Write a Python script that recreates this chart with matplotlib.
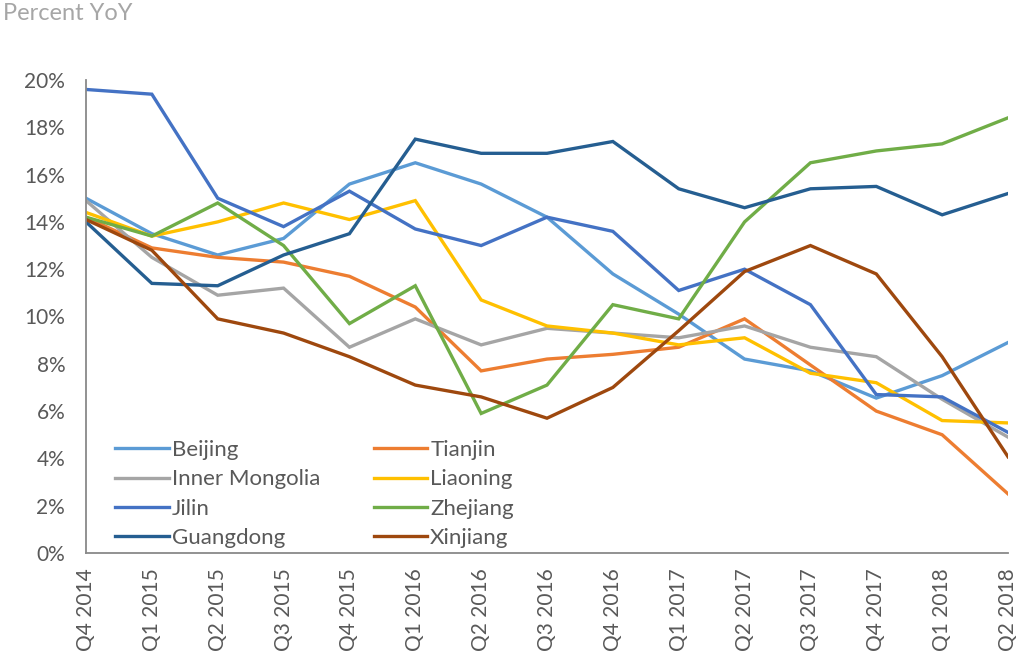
import matplotlib.pyplot as plt
from matplotlib.ticker import FuncFormatter

quarters = ["Q4 2014", "Q1 2015", "Q2 2015", "Q3 2015", "Q4 2015",
            "Q1 2016", "Q2 2016", "Q3 2016", "Q4 2016", "Q1 2017",
            "Q2 2017", "Q3 2017", "Q4 2017", "Q1 2018", "Q2 2018"]

beijing = [15.0, 13.5, 12.6, 13.3, 15.6, 16.5, 15.6, 14.2, 11.8, 10.1, 8.2, 7.7, 6.55, 7.5, 8.9]
tianjin = [14.2, 12.9, 12.5, 12.3, 11.7, 10.4, 7.7, 8.2, 8.4, 8.7, 9.9, 7.95, 6.0, 5.0, 2.5]
inner_mongolia = [14.9, 12.5, 10.9, 11.2, 8.7, 9.9, 8.8, 9.5, 9.3, 9.1, 9.6, 8.7, 8.3, 6.5, 4.9]
liaoning = [14.4, 13.4, 14.0, 14.8, 14.1, 14.9, 10.7, 9.6, 9.3, 8.8, 9.1, 7.6, 7.2, 5.6, 5.5]
jilin = [19.6, 19.4, 15.0, 13.8, 15.3, 13.7, 13.0, 14.2, 13.6, 11.1, 12.0, 10.5, 6.7, 6.6, 5.1]
zhejiang = [14.2, 13.4, 14.8, 13.0, 9.7, 11.3, 5.9, 7.1, 10.5, 9.9, 14.0, 16.5, 17.0, 17.3, 18.4]
guangdong = [14.0, 11.4, 11.3, 12.6, 13.5, 17.5, 16.9, 16.9, 17.4, 15.4, 14.6, 15.4, 15.5, 14.3, 15.2]
xinjiang = [14.1, 12.8, 9.9, 9.3, 8.3, 7.1, 6.6, 5.7, 7.0, 9.4, 11.9, 13.0, 11.8, 8.3, 4.07]

series = [
    ("Beijing", beijing, "#5B9BD5"),
    ("Tianjin", tianjin, "#ED7D31"),
    ("Inner Mongolia", inner_mongolia, "#A5A5A5"),
    ("Liaoning", liaoning, "#FFC000"),
    ("Jilin", jilin, "#4472C4"),
    ("Zhejiang", zhejiang, "#70AD47"),
    ("Guangdong", guangdong, "#255E91"),
    ("Xinjiang", xinjiang, "#9E480E"),
]

plt.rcParams['font.family'] = ['Lato', 'DejaVu Sans']
text_col = "#595959"

fig = plt.figure(figsize=(10.25, 6.55), dpi=100)
ax = fig.add_axes([86 / 1025, (655 - 553) / 655, (1008 - 86) / 1025, (553 - 80) / 655])

x = list(range(len(quarters)))
lines = {}
for name, vals, col in series:
    lines[name], = ax.plot(x, vals, color=col, lw=2.4, label=name, solid_joinstyle='miter')

ax.set_xlim(0, len(quarters) - 1)
ax.set_ylim(0, 20)
ax.set_yticks(range(0, 21, 2))
ax.yaxis.set_major_formatter(FuncFormatter(lambda v, p: "%d%%" % v))
ax.set_xticks(x)
ax.set_xticklabels(quarters, rotation=90)
ax.tick_params(length=0, labelsize=15, colors=text_col)
ax.tick_params(axis="y", pad=15)
ax.tick_params(axis="x", pad=11)
for s in ["top", "right"]:
    ax.spines[s].set_visible(False)
for s in ["left", "bottom"]:
    ax.spines[s].set_color("#898989")
    ax.spines[s].set_linewidth(1.3)

# legend filled row by row as in the original
order = ["Beijing", "Inner Mongolia", "Jilin", "Guangdong",
         "Tianjin", "Liaoning", "Zhejiang", "Xinjiang"]
leg = ax.legend([lines[n] for n in order], order, ncol=2, loc="lower left",
                bbox_to_anchor=(0.010, -0.032), frameon=False, fontsize=16,
                handlelength=2.4, handletextpad=0.15, columnspacing=2.4,
                labelspacing=0.42, labelcolor=text_col)

fig.text(3 / 1025, 1 - 14 / 655, "Percent YoY", fontsize=17, color="#A6A6A6",
         ha="left", va="center")

fig.savefig("out.png", dpi=100)
